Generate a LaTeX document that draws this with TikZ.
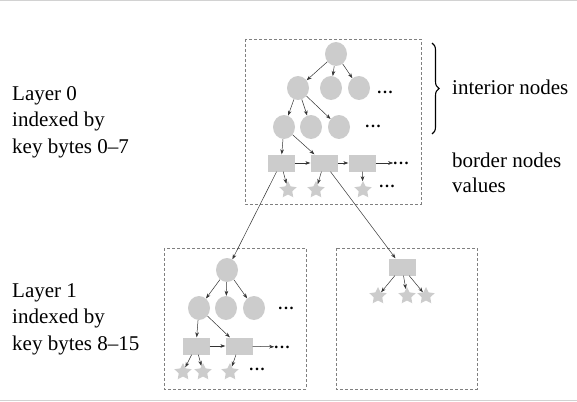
\documentclass[tikz,border=0pt]{standalone}
\usepackage{fontspec}
\setmainfont{Liberation Serif}
\usetikzlibrary{shapes.geometric,arrows.meta,decorations.pathreplacing}
\newcommand{\mydots}{\textbf{.\hspace{1.6pt}.\hspace{1.6pt}.}}
\begin{document}
\begin{tikzpicture}[x=1pt,y=-1pt,
 inode/.style={ellipse,fill=gray!40,minimum width=22pt,minimum height=24pt,inner sep=0pt},
 bnode/.style={rectangle,fill=gray!40,minimum width=27pt,minimum height=17pt,inner sep=0pt},
 vnode/.style={star,star points=5,star point ratio=2,fill=gray!40,minimum size=18pt,inner sep=0pt},
 dotsnode/.style={font=\fontsize{16}{16}\selectfont,inner sep=0pt},
 edge/.style={draw=black!80,line width=0.5pt,-{Stealth[length=5pt,width=3.6pt]}},
 layerbox/.style={draw=gray,dash pattern=on 3pt off 2pt,line width=0.6pt},
 lbl/.style={font=\fontsize{21}{26}\selectfont,anchor=base west,inner sep=0pt}]
\useasboundingbox (0,0) rectangle (577,401);
% frame lines
\draw[gray!35,line width=1.5pt] (0,0.75) -- (577,0.75);
\draw[gray!35,line width=1.5pt] (0,400.25) -- (577,400.25);
% layer boxes
\draw[layerbox] (245,39) rectangle (421,204);
\draw[layerbox] (164,248) rectangle (306,389);
\draw[layerbox] (336,248) rectangle (477,389);
% layer 0
\node[inode] (r0) at (336,54) {};
\node[inode] (a1) at (298,88) {};
\node[inode] (a2) at (331,88) {};
\node[inode] (a3) at (359,88) {};
\node[dotsnode] (ad) at (385,92) {\mydots};
\node[inode] (b1) at (284,127) {};
\node[inode] (b2) at (311,127) {};
\node[inode] (b3) at (339,127) {};
\node[dotsnode] (bd) at (373,126) {\mydots};
\node[bnode] (c1) at (281,163) {};
\node[bnode] (c2) at (324,163) {};
\node[bnode] (c3) at (362,163) {};
\node[dotsnode] (cd) at (401,163) {\mydots};
\node[vnode] (s1) at (288,190) {};
\node[vnode] (s2) at (316,190) {};
\node[vnode] (s3) at (363,190) {};
\node[dotsnode] (sd) at (387,186) {\mydots};
\foreach \t in {a1,a2,a3} \draw[edge] (r0) -- (\t);
\foreach \t in {b1,b2,b3} \draw[edge] (a1) -- (\t);
\draw[edge] (b1) -- (c1);
\draw[edge] (b1) -- (c2);
\draw[edge] (c1) -- (c2);
\draw[edge] (c2) -- (c3);
\draw[edge] (c3) -- (cd);
\draw[edge] (c1) -- (s1);
\draw[edge] (c2) -- (s2);
\draw[edge] (c3) -- (s3);
% layer 1 left
\node[inode] (lr) at (227,270) {};
\node[inode] (la1) at (199,308) {};
\node[inode] (la2) at (226,308) {};
\node[inode] (la3) at (254,308) {};
\node[dotsnode] (lad) at (286,308) {\mydots};
\node[bnode] (lc1) at (196,346) {};
\node[bnode] (lc2) at (239,346) {};
\node[dotsnode] (lcd) at (282,347) {\mydots};
\node[vnode] (ls1) at (183,372) {};
\node[vnode] (ls2) at (203,372) {};
\node[vnode] (ls3) at (230,372) {};
\node[dotsnode] (lsd) at (257,369) {\mydots};
\foreach \t in {la1,la2,la3} \draw[edge] (lr) -- (\t);
\draw[edge] (la1) -- (lc1);
\draw[edge] (la1) -- (lc2);
\draw[edge] (lc1) -- (lc2);
\draw[edge] (lc2) -- (lcd);
\draw[edge] (lc1) -- (ls1);
\draw[edge] (lc1) -- (ls2);
\draw[edge] (lc2) -- (ls3);
% layer 1 right
\node[bnode] (rc) at (402,267) {};
\node[vnode] (rs1) at (378,296) {};
\node[vnode] (rs2) at (407,296) {};
\node[vnode] (rs3) at (426,296) {};
\foreach \t in {rs1,rs2,rs3} \draw[edge] (rc) -- (\t);
% cross-layer links
\draw[edge] (c1) -- (lr);
\draw[edge] (c2) -- (rc);
% labels
\node[lbl] (l0a) at (12,100) {Layer 0};
\node[lbl] (l0b) at (12,126.5) {indexed by};
\node[lbl] (l0c) at (12,153) {key bytes 0--7};
\node[lbl] (l1a) at (12,297) {Layer 1};
\node[lbl] (l1b) at (12,323.5) {indexed by};
\node[lbl] (l1c) at (12,350) {key bytes 8--15};
\coordinate (bt) at (432,43);
\coordinate (bb) at (432,134);
\draw[line width=1.1pt,decorate,decoration={brace,amplitude=7pt}] (bt) -- (bb);
\node[lbl] (int) at (452,95) {interior nodes};
\node[lbl] (bor) at (452,167) {border nodes};
\node[lbl] (val) at (452,192) {values};
\end{tikzpicture}
\end{document}
